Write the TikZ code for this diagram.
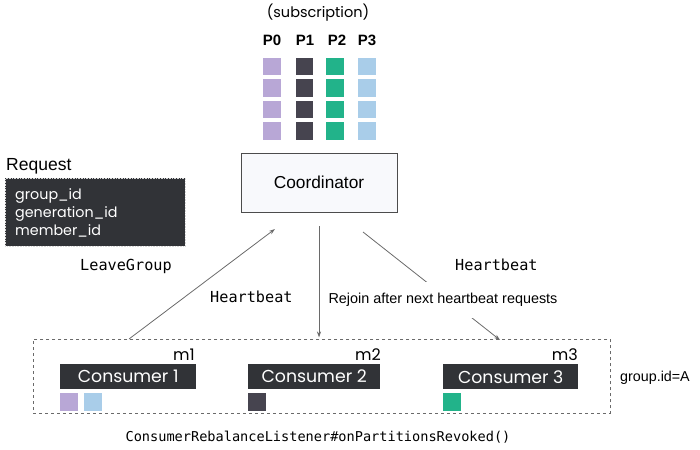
\documentclass[tikz,border=0pt]{standalone}
\usepackage{fontspec}
\setmainfont{Liberation Sans}
\newfontfamily\popfont{Poppins}
\newfontfamily\monofont{DejaVu Sans Mono}
\usetikzlibrary{arrows.meta}
\definecolor{cpurple}{HTML}{B8A7D6}
\definecolor{cdark}{HTML}{46444F}
\definecolor{cgreen}{HTML}{22B38A}
\definecolor{cblue}{HTML}{A9CDE9}
\definecolor{boxdark}{HTML}{313337}
\definecolor{linegray}{HTML}{6A6A6A}
\tikzset{
  sq/.style={minimum size=17.5pt, inner sep=0pt, outer sep=0pt},
  consumer/.style={fill=boxdark, text=white, inner sep=0pt, minimum height=25pt, minimum width=135pt, font=\popfont\fontsize{17.3}{19}\selectfont},
  plabel/.style={font=\bfseries\fontsize{15}{16}\selectfont, inner sep=0pt},
  mlabel/.style={font=\popfont\fontsize{16}{17}\selectfont, inner sep=0pt, anchor=east},
  conn/.style={draw=linegray, line width=0.8pt, -{Stealth[length=6pt,width=4pt]}},
  mono/.style={font=\monofont\fontsize{15.2}{18}\selectfont, inner sep=0pt},
}
\begin{document}
\begin{tikzpicture}[x=1pt,y=-1pt]
\useasboundingbox (0,0) rectangle (700,449);
% subscription
\node[font=\popfont\fontsize{14.5}{17}\selectfont, inner sep=0pt] (sub) at (318,13) {(subscription)};
\node[plabel] (p0) at (272,40) {P0};
\node[plabel] (p1) at (305,40) {P1};
\node[plabel] (p2) at (337,40) {P2};
\node[plabel] (p3) at (367,40) {P3};
\foreach \y [count=\i] in {66.5,88,109.5,131}{
  \node[sq, fill=cpurple] (a\i) at (272,\y) {};
  \node[sq, fill=cdark] (b\i) at (304.5,\y) {};
  \node[sq, fill=cgreen] (c\i) at (335,\y) {};
  \node[sq, fill=cblue] (d\i) at (367,\y) {};
}
% coordinator
\node[draw=black!70, fill={rgb,255:red,248;green,249;blue,252}, line width=0.7pt, minimum width=156pt, minimum height=59pt, inner sep=0pt, font=\fontsize{17.3}{19}\selectfont] (coord) at (319,182.5) {Coordinator};
% request
\node[anchor=west, inner sep=0pt, font=\fontsize{17.5}{19}\selectfont] (reqlbl) at (6,166) {Request};
\node[fill=boxdark, draw=white!70!gray, densely dotted, line width=0.6pt, minimum width=180pt, minimum height=68pt, inner sep=0pt, anchor=north west] (req) at (5,178) {};
\node[anchor=west, inner sep=0pt, text=white, align=left, font=\popfont\fontsize{14.3}{18}\selectfont] (reqtxt) at (15,213) {group\_id\\generation\_id\\member\_id};
% group box
\node[draw=linegray, dashed, line width=0.6pt, minimum width=577pt, minimum height=74pt, inner sep=0pt, anchor=north west] (grp) at (33,339) {};
\node[anchor=west, inner sep=0pt, font=\fontsize{14.3}{17}\selectfont] (gid) at (620,378) {group.id=A};
% consumers
\node[consumer, minimum width=136pt, anchor=north west] (c1) at (60,364) {Consumer 1};
\node[consumer, minimum width=132pt, anchor=north west] (c2) at (248,364) {Consumer 2};
\node[consumer, minimum width=135pt, anchor=north west] (c3) at (443,364) {Consumer 3};
\node[mlabel] (m1) at (195,355) {m1};
\node[mlabel] (m2) at (381,355) {m2};
\node[mlabel] (m3) at (578,355) {m3};
\node[sq, fill=cpurple, anchor=north west] (s11) at (60,393) {};
\node[sq, fill=cblue, anchor=north west] (s12) at (84,393) {};
\node[sq, fill=cdark, anchor=north west] (s21) at (248,393) {};
\node[sq, fill=cgreen, anchor=north west] (s31) at (443,393) {};
% connectors
\coordinate (l1) at (129,339);
\coordinate (l2) at (275,229);
\coordinate (v1) at (319,226);
\coordinate (v2) at (319,337.5);
\coordinate (r1) at (363,232);
\coordinate (r2) at (500,340);
\draw[conn] (l1) -- (l2);
\draw[conn] (v1) -- (v2);
\draw[conn] (r1) -- (r2);
\node[fill=white, inner xsep=9pt, inner ysep=11pt, font=\fontsize{14.4}{17}\selectfont] (rejoin) at (443,300) {Rejoin after next heartbeat requests};
% labels
\node[mono, anchor=west] (leave) at (80,266) {LeaveGroup};
\node[mono, anchor=west] (hb1) at (210,297) {Heartbeat};
\node[mono, anchor=west] (hb2) at (455,265) {Heartbeat};
\node[mono, font=\monofont\fontsize{13.6}{16}\selectfont] (bottom) at (318,437) {ConsumerRebalanceListener\#onPartitionsRevoked()};
\end{tikzpicture}
\end{document}
